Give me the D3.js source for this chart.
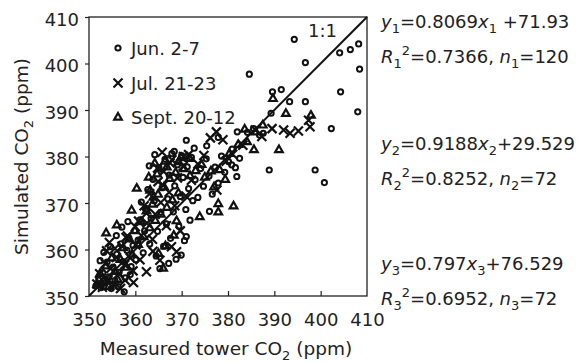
<!DOCTYPE html>
<html>
<head>
<meta charset="utf-8">
<script src="https://cdn.jsdelivr.net/npm/d3@7"></script>
<style>
  body { margin: 0; background: #fff; }
  svg text { font-family: "DejaVu Sans", sans-serif; fill: #222; white-space: pre; }
</style>
</head>
<body>
<div id="vis"></div>
<script>
// ---- data ----
const xTicks = [350, 360, 370, 380, 390, 400, 410];
const yTicks = [350, 360, 370, 380, 390, 400, 410];
const legendLabels = ["Jun. 2-7", "Jul. 21-23", "Sept. 20-12"];

// Jun. 2-7, circles
const junPoints = [
  // scattered high values
  [394.3,405.2],[404.1,402.3],[406.4,403.0],[408.2,404.2],[408.4,398.8],[396.7,400.2],
  [384.6,397.7],[389.6,393.9],[391.5,394.4],[393.3,391.8],[396.7,391.8],[404.3,393.9],
  [408.0,389.6],[402.3,386.0],[382.0,385.3],[384.2,385.2],[385.5,386.0],[386.8,384.6],
  [388.9,377.1],[398.8,377.1],[400.8,374.4],[381.9,375.7],[372.7,381.8],[389.3,389.3],
  [387.6,385.0],[380.8,378.2],[382.5,379.6],[375.4,382.3],[377.9,384.1],[371.0,383.5],
  // lower-left cluster
  [351.5,352.2],[352.1,353.4],[352.6,351.8],[353.0,355.0],[353.4,352.9],[353.9,357.3],
  [354.3,354.1],[354.8,351.6],[355.2,356.2],[355.6,353.3],[356.0,359.0],[356.5,355.1],
  [356.9,361.2],[357.3,357.4],[357.8,353.9],[358.2,359.8],[358.6,362.5],[359.1,356.3],
  [359.5,360.9],[359.9,364.1],[352.4,357.6],[353.2,359.4],[354.6,360.6],[355.9,363.0],
  [357.1,364.8],[358.4,366.0],[356.3,352.0],[358.9,354.6],[360.1,357.8],[357.6,350.9],
  // central column
  [360.6,362.0],[361.0,366.4],[361.3,370.2],[361.7,359.3],[362.0,364.0],[362.4,368.8],
  [362.7,372.9],[363.1,361.2],[363.4,366.7],[363.8,375.1],[364.1,370.5],[364.5,358.6],
  [364.8,363.9],[365.1,377.6],[365.5,368.0],[365.8,373.3],[366.1,360.7],[366.4,379.4],
  [366.7,365.5],[367.0,370.9],[367.3,376.0],[367.6,362.4],[367.9,380.6],[368.2,368.1],
  [368.5,373.7],[368.8,357.9],[369.1,378.2],[369.4,365.0],[369.7,371.4],[370.0,380.2],
  [370.3,375.5],[370.6,361.9],[370.9,368.6],[371.2,377.8],[371.5,373.1],[371.8,366.3],
  [372.1,379.8],[372.4,370.5],[365.3,355.9],[367.2,357.0],[363.0,378.0],[369.9,358.8],
  [371.0,362.8],[364.2,380.4],[368.4,381.1],
  // arm towards the upper right
  [372.9,375.0],[373.5,371.2],[374.1,377.4],[374.7,373.6],[375.3,379.5],[375.9,375.8],
  [376.6,371.9],[377.2,377.7],[377.9,374.3],[378.6,380.1],[379.3,376.6],[380.1,378.9],
  [380.9,381.6],[381.6,377.6],[376.0,368.2]
];

// Jul. 21-23, crosses
const julPoints = [
  [351.7,352.6],[352.3,354.8],[352.9,351.9],[353.5,357.0],[354.1,353.5],[354.7,355.9],
  [355.3,352.4],[355.9,358.3],[356.5,354.9],[357.1,360.7],[357.7,356.7],[358.3,362.9],
  [358.9,358.2],[359.5,355.4],[360.1,361.0],[360.7,366.1],[361.3,363.0],[361.9,369.4],
  [362.5,365.7],[363.1,372.0],[363.7,362.2],[364.3,367.6],[364.9,374.6],[365.5,370.1],
  [366.1,376.8],[366.7,365.1],[367.3,372.3],[367.9,379.3],[368.5,369.4],[369.1,375.4],
  [369.7,364.0],[370.3,377.9],[370.9,371.5],[371.5,380.4],[372.1,374.9],[365.8,380.9],
  [353.8,359.7],[355.6,360.2],[354.4,361.5],[362.4,367.8],[362.4,355.2],[357.8,353.4],
  [367.8,360.6],[368.9,359.5],[365.3,357.7],[377.6,372.8],[364.8,377.5],[377.5,385.3],
  [376.2,384.0],[378.9,383.6],[374.8,380.2],[389.5,386.0],[392.0,385.7],[397.7,386.4],
  [395.2,385.5],[387.3,384.3],[385.9,385.7],[393.4,385.0],[397.4,387.8],[381.0,380.5],
  [383.2,382.4],[379.6,379.0],[373.5,378.4],[356.8,351.6],[359.6,352.9],[361.0,357.8],
  [363.8,359.6],[366.0,373.8],[367.5,378.6],[370.4,380.0],[360.0,364.9],[358.0,362.6]
];

// Sept. 20-12, triangles
const septPoints = [
  [360.3,373.2],[363.2,372.8],[363.9,371.3],[359.2,368.5],[356.0,365.3],[353.7,363.6],
  [366.0,356.0],[373.9,367.1],[377.9,368.1],[377.9,369.9],[381.2,369.4],[369.3,378.9],
  [366.8,377.8],[389.7,392.5],[392.5,389.3],[397.9,388.9],[385.6,381.5],[391.0,381.5],
  [371.7,379.6],[364.2,378.6],
  [351.8,352.6],[352.4,354.9],[353.1,353.3],[353.7,356.5],[354.3,352.1],[354.9,358.2],
  [355.6,355.3],[356.2,353.6],[356.8,357.9],[357.4,360.4],[358.1,356.2],[358.7,362.3],
  [359.3,359.0],[359.9,364.1],[360.6,361.1],[361.2,366.0],[361.8,362.8],[362.4,368.3],
  [363.1,364.7],[363.7,369.8],[364.3,366.3],[364.9,371.9],[365.5,367.6],[366.2,373.5],
  [366.8,369.1],[367.4,375.3],[368.0,370.7],[368.7,376.6],[369.3,372.2],[369.9,379.8],
  [370.5,377.4],[366.4,379.0],[371.8,375.9],[362.9,375.6],[373.0,377.0],[364.7,376.3],
  [374.3,378.3],[375.0,375.6],[368.9,366.2],[376.3,376.9],[377.0,373.5],[378.2,377.2],
  [379.4,375.1],[380.3,380.7],[382.2,382.6],[384.1,383.2],[386.0,385.3],[387.5,386.8],
  [383.6,385.9],[366.5,360.8],[368.3,363.1],[365.0,359.2]
];

// regression annotations
const fitIndex = ["1", "2", "3"];
const fitSlope = ["0.8069", "0.9188", "0.797"];
const fitIntercept = [" +71.93", "+29.529", "+76.529"];
const fitR2 = ["0.7366", "0.8252", "0.6952"];
const fitN = ["120", "72", "72"];

// ---- layout ----
const width = 577, height = 362;
const margin = { top: 17, right: 210, bottom: 66, left: 89 };

const svg = d3.select("#vis").append("svg")
  .attr("width", width)
  .attr("height", height);

const x = d3.scaleLinear().domain([350, 410]).range([margin.left, width - margin.right]);
const y = d3.scaleLinear().domain([350, 410]).range([height - margin.bottom, margin.top]);

// axes
const xAxis = svg.append("g")
  .attr("transform", `translate(0,${height - margin.bottom})`)
  .call(d3.axisBottom(x).tickValues(xTicks).tickSizeInner(-5).tickSizeOuter(0).tickPadding(17));
const yAxis = svg.append("g")
  .attr("transform", `translate(${margin.left},0)`)
  .call(d3.axisLeft(y).tickValues(yTicks).tickSizeInner(4).tickSizeOuter(0).tickPadding(6));

[xAxis, yAxis].forEach(a => {
  a.select(".domain").remove();
  a.selectAll("line").attr("stroke", "#222").attr("stroke-width", 1.2);
  a.selectAll("text").attr("font-size", 18).attr("fill", "#222")
    .style("font-family", "DejaVu Sans");
});
yAxis.selectAll("text").attr("dy", "0.45em");
xAxis.selectAll(".tick").filter(d => d === 350 || d === 410).select("line").remove();

// frame
svg.append("rect")
  .attr("x", x(350)).attr("y", y(410))
  .attr("width", x(410) - x(350)).attr("height", y(350) - y(410))
  .attr("fill", "none").attr("stroke", "#222").attr("stroke-width", 1.3);

// 1:1 line
svg.append("line")
  .attr("x1", x(350)).attr("y1", y(350))
  .attr("x2", x(410)).attr("y2", y(410))
  .attr("stroke", "#111").attr("stroke-width", 2);

svg.append("text")
  .attr("x", x(410) - 30).attr("y", y(410) + 20)
  .attr("text-anchor", "end").attr("font-size", 18)
  .text("1:1");

// markers
const crossPath = "M-4.5,-4.5L4.5,4.5M-4.5,4.5L4.5,-4.5";
const triPath = "M0,-4L3.8,2.6L-3.8,2.6Z";

function drawCircles(g, pts) {
  g.selectAll("circle").data(pts).join("circle")
    .attr("cx", d => x(d[0])).attr("cy", d => y(d[1]))
    .attr("r", 2.6)
    .attr("fill", "none")
    .attr("stroke", "#111").attr("stroke-width", 2);
}
function drawPaths(g, pts, p, sw) {
  g.selectAll("path").data(pts).join("path")
    .attr("transform", d => `translate(${x(d[0])},${y(d[1])})`)
    .attr("d", p)
    .attr("fill", "none").attr("stroke", "#111").attr("stroke-width", sw);
}

drawCircles(svg.append("g"), junPoints);
drawPaths(svg.append("g"), julPoints, crossPath, 2.2);
drawPaths(svg.append("g"), septPoints, triPath, 2.2);

// legend
const legendY = [48, 83, 117];
const lg = svg.append("g");
lg.append("circle").attr("cx", 118).attr("cy", legendY[0]).attr("r", 2.6)
  .attr("fill", "none").attr("stroke", "#111").attr("stroke-width", 2);
lg.append("path").attr("transform", `translate(118,${legendY[1]})`).attr("d", crossPath)
  .attr("fill", "none").attr("stroke", "#111").attr("stroke-width", 2.2);
lg.append("path").attr("transform", `translate(118,${legendY[2]})`).attr("d", triPath)
  .attr("fill", "none").attr("stroke", "#111").attr("stroke-width", 2.2);
legendLabels.forEach((t, i) => {
  lg.append("text").attr("x", 131).attr("y", legendY[i]).attr("dy", "0.38em")
    .attr("font-size", 18).text(t);
});

// text with sub/superscripts
function richText(sel, parts) {
  let shift = 0;
  parts.forEach(p => {
    const target = p.sub ? 5 : p.sup ? -8 : 0;
    const ts = sel.append("tspan").attr("dy", target - shift).text(p.t);
    shift = target;
    if (p.sub || p.sup) ts.attr("font-size", 13);
    if (p.it) ts.attr("font-style", "italic");
  });
  return sel;
}

// axis titles
richText(
  svg.append("text").attr("x", (x(350) + x(410)) / 2 - 2).attr("y", 355)
    .attr("text-anchor", "middle").attr("font-size", 18.5),
  [{ t: "Measured tower CO" }, { t: "2", sub: true }, { t: " (ppm)" }]
);

richText(
  svg.append("text").attr("transform", `translate(28,${(y(350) + y(410)) / 2}) rotate(-90)`)
    .attr("text-anchor", "middle").attr("font-size", 18.5),
  [{ t: "Simulated CO" }, { t: "2", sub: true }, { t: " (ppm)" }]
);

// regression equations on the right
const eqTop = [28, 150, 270];
fitIndex.forEach((k, i) => {
  richText(
    svg.append("text").attr("x", 381).attr("y", eqTop[i]).attr("font-size", 18),
    [{ t: "y", it: true }, { t: k, sub: true }, { t: "=" + fitSlope[i] },
     { t: "x", it: true }, { t: k, sub: true }, { t: fitIntercept[i] }]
  );
  richText(
    svg.append("text").attr("x", 381).attr("y", eqTop[i] + 35).attr("font-size", 18),
    [{ t: "R", it: true }, { t: k, sub: true }, { t: "2", sup: true },
     { t: "=" + fitR2[i] + ", " }, { t: "n", it: true }, { t: k, sub: true },
     { t: "=" + fitN[i] }]
  );
});
</script>
</body>
</html>
